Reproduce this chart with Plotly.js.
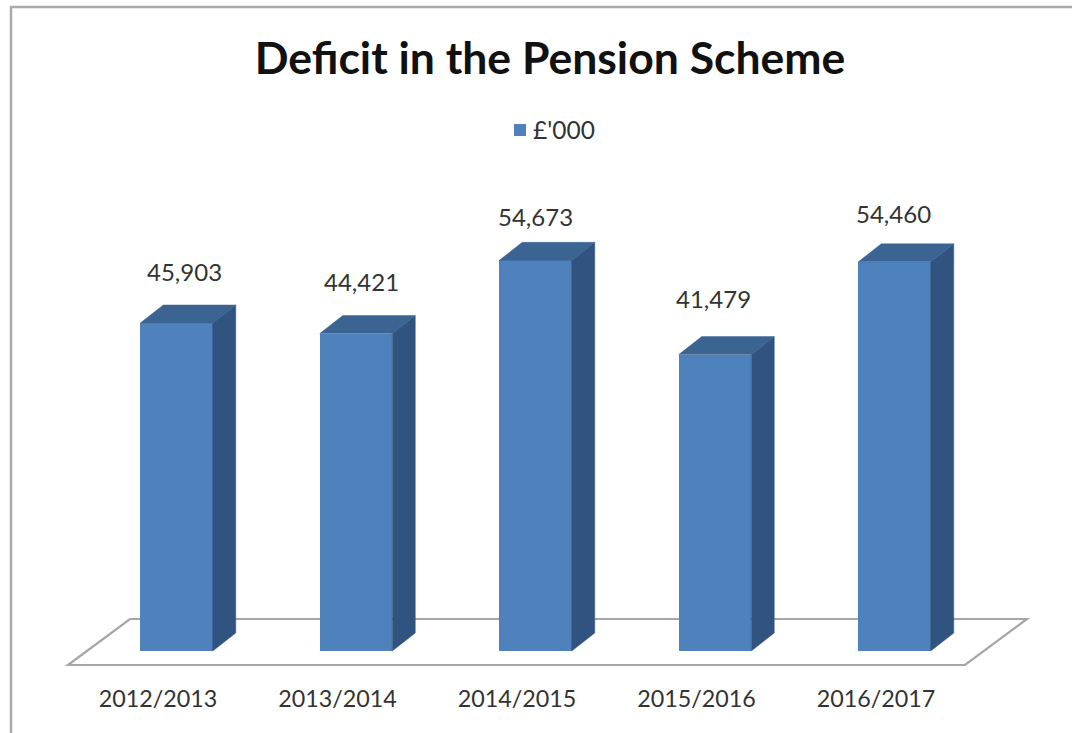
<!DOCTYPE html>
<html>
<head>
<meta charset="utf-8">
<script src="https://cdn.plot.ly/plotly-3.0.1.min.js"></script>
<style>html,body{margin:0;padding:0;background:#fff;overflow:hidden}</style>
</head>
<body>
<div id="chart" style="width:1072px;height:733px"></div>
<script>
const categories = ["2012/2013","2013/2014","2014/2015","2015/2016","2016/2017"];
const values = [45903,44421,54673,41479,54460];
const seriesName = "£'000";

const W = 1072, H = 733, axisPx = 680, zeroPx = 651;
const pxX = 179.5, pxY = 328 / 45903;
const firstBarPx = 176.5, barW = 72.5 / pxX;
const dx = 23 / pxX, dy = 18 / pxY;
const idx = categories.map((_, i) => i);
const L = i => i - barW / 2, R = i => i + barW / 2;
const xRange = [-firstBarPx / pxX, (W - firstBarPx) / pxX];
const yRange = [-(axisPx - zeroPx) / pxY, zeroPx / pxY];

// label nudges in pixels, relative to the front top-centre of each bar
const labelNudgeX = [8, 5, 0, -2, -1.5];
const labelNudgeY = [52, 52, 44, 56, 48];

const sideX = [], sideY = [], topX = [], topY = [];
idx.forEach(i => {
  const v = values[i];
  sideX.push(R(i), R(i) + dx, R(i) + dx, R(i), R(i), null);
  sideY.push(0, dy, v + dy, v, 0, null);
  topX.push(L(i), L(i) + dx, R(i) + dx, R(i), L(i), null);
  topY.push(v, v + dy, v + dy, v, v, null);
});

const face = (x, y, c) => ({type:'scatter', mode:'lines', x, y, fill:'toself', fillcolor:c,
  line:{color:c, width:0.5}, showlegend:false, hoverinfo:'skip'});

const traces = [
  {type:'bar', name:seriesName, x:idx, y:values, width:barW, marker:{color:'#4f81bd'},
   hovertemplate:'%{y:,}<extra></extra>'},
  face(sideX, sideY, '#30547f'),
  face(topX, topY, '#3b6493')
];

const fl = (68 - firstBarPx) / pxX, fr = (965 - firstBarPx) / pxX, fs = 62 / pxX, fFront = -14 / pxY, fBack = 32 / pxY;
const floorPath = `M ${fl} ${fFront} L ${fl+fs} ${fBack} L ${fr+fs} ${fBack} L ${fr} ${fFront} Z`;

const layout = {
  width:W, height:H, autosize:false,
  margin:{l:0, r:0, t:0, b:H-axisPx, pad:0},
  paper_bgcolor:'#fff', plot_bgcolor:'rgba(0,0,0,0)',
  font:{family:'Lato, "Open Sans", sans-serif', color:'#333'},
  title:{text:'<b>Deficit in the Pension Scheme</b>', font:{size:44.5, color:'#111', family:'Lato, sans-serif'},
    xref:'paper', x:550/W, xanchor:'center', yref:'container', y:1-58/H, yanchor:'middle'},
  showlegend:true,
  legend:{x:500/W, xanchor:'left', y:1-130/axisPx, yanchor:'middle', orientation:'h',
    font:{size:24.5, color:'#333'}, bgcolor:'rgba(0,0,0,0)', itemwidth:30},
  bargap:0,
  xaxis:{range:xRange, tickvals:idx.map(i => i - 18.5/pxX), ticktext:categories, showgrid:false, zeroline:false,
    showline:false, ticks:'', tickfont:{size:23.3, color:'#333'}, fixedrange:true, ticklabelstandoff:3},
  yaxis:{range:yRange, visible:false, showgrid:false, zeroline:false, fixedrange:true},
  shapes:[
    {type:'path', xref:'x', yref:'y', path:floorPath, line:{color:'#a6a6a6', width:2.2}, fillcolor:'#fff', layer:'below'},
    {type:'line', xref:'paper', yref:'paper', x0:11/W, x1:11/W, y0:1-H/axisPx, y1:1-6/axisPx, line:{color:'#ababab', width:2.5}},
    {type:'line', xref:'paper', yref:'paper', x0:10/W, x1:1, y0:1-7/axisPx, y1:1-7/axisPx, line:{color:'#ababab', width:2.5}}
  ],
  annotations: idx.map(i => ({
    xref:'x', yref:'y', x:i + labelNudgeX[i]/pxX, y:values[i] + labelNudgeY[i]/pxY,
    text:values[i].toLocaleString('en-GB'), showarrow:false, xanchor:'center', yanchor:'middle',
    font:{size:24, color:'#333'}
  }))
};

Plotly.newPlot('chart', traces, layout, {displayModeBar:false}).then(gd => {
  const t = gd.querySelector('.legend .legendtext');
  const s = gd.querySelector('.legend .legendundefined, .legend .traces');
  if (t) {
    const box = t.getBoundingClientRect();
    t.setAttribute('x', parseFloat(t.getAttribute('x')) - (box.left - 533));
  }
});
</script>
</body>
</html>
